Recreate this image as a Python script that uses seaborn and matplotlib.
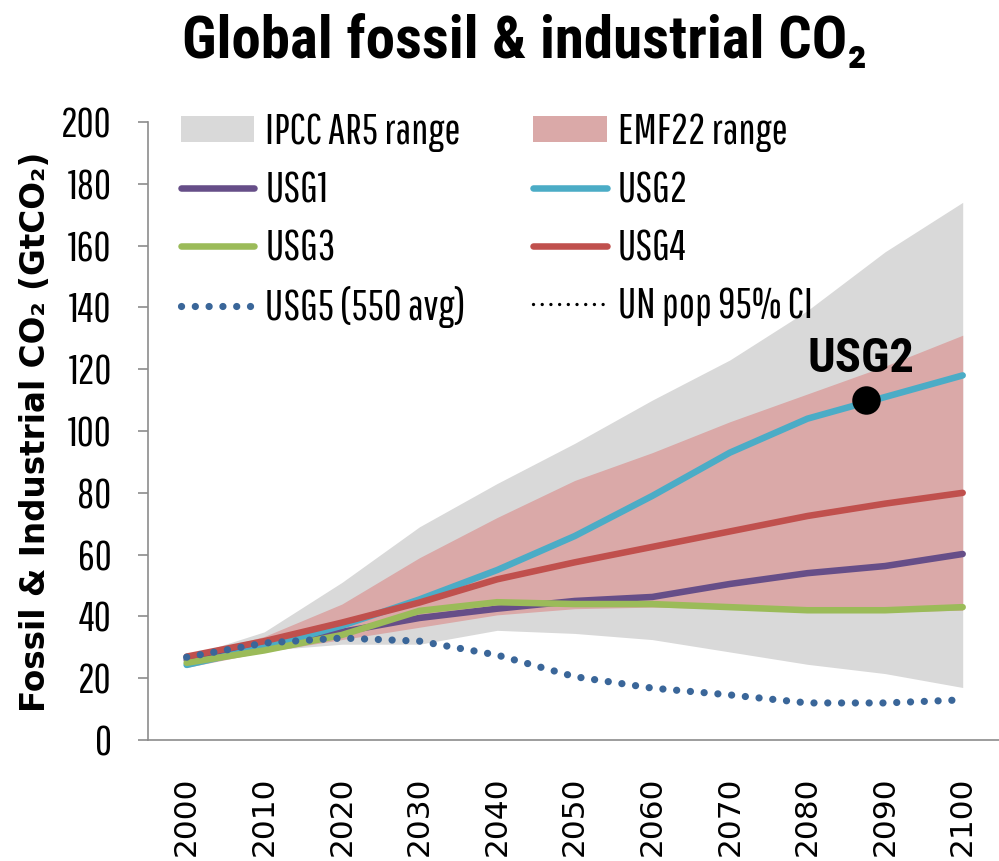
import numpy as np
import pandas as pd
import matplotlib
matplotlib.use("Agg")
import matplotlib.pyplot as plt
import seaborn as sns
from matplotlib.patches import Patch
from matplotlib.lines import Line2D

# values (GtCO2)
years = [2000, 2010, 2020, 2030, 2040, 2050, 2060, 2070, 2080, 2090, 2100]
ipcc_low = [24, 29, 31, 31, 35.5, 34.5, 32.5, 28.5, 24.5, 21.5, 17]
ipcc_high = [27, 35, 51, 69, 83, 96, 110, 123, 139, 158, 174]
emf_low = [23.5, 28.5, 32.5, 36.5, 40.5, 42.5, 43, 42.5, 41.5, 41.5, 42]
emf_high = [27, 33.5, 44, 59, 72, 84, 93, 103, 112, 121, 131]
usg1 = [26, 31, 35, 39.5, 42.5, 45, 46.3, 50.5, 54, 56.3, 60.2]
usg2 = [24.3, 30, 37, 45.5, 55, 66, 79, 93, 104, 111, 118]
usg3 = [25, 29, 34, 41.8, 44.6, 44, 44, 43, 42, 42, 43]
usg4 = [27, 32, 38, 44.5, 52, 57.5, 62.5, 67.5, 72.5, 76.5, 80]
usg5 = [26.8, 31.4, 33, 32, 27.5, 20.5, 16.8, 14.6, 12, 12, 13]
usg2_pt_year = [2087.5]
usg2_pt_value = [110]

C_GRAY = "#D9D9D9"
C_PINK = "#DAA9A8"
C_USG1 = "#664E88"
C_USG2 = "#4BACC6"
C_USG3 = "#9BBB59"
C_USG4 = "#C0504D"
C_USG5 = "#3A6699"
C_AXIS = "#8C8C8C"

NARROW = ["Pathway Gothic One", "Roboto Condensed", "DejaVu Sans"]
BOLD_NARROW = ["Roboto Condensed", "DejaVu Sans"]

sns.set_style("white")
plt.rcParams['font.family'] = NARROW
plt.rcParams['text.color'] = "black"
plt.rcParams['xtick.color'] = "black"
plt.rcParams['ytick.color'] = "black"

fig = plt.figure(figsize=(9.99, 8.61), dpi=100)
ax = fig.add_axes([0.148, 0.1405, 0.8545, 0.7178])

ax.fill_between(years, ipcc_low, ipcc_high, color=C_GRAY, linewidth=0)
ax.fill_between(years, emf_low, emf_high, color=C_PINK, linewidth=0)

lw = 4.7
sns.lineplot(x=years, y=usg1, ax=ax, color=C_USG1, linewidth=lw, solid_capstyle="round")
sns.lineplot(x=years, y=usg2, ax=ax, color=C_USG2, linewidth=lw, solid_capstyle="round")
sns.lineplot(x=years, y=usg3, ax=ax, color=C_USG3, linewidth=lw, solid_capstyle="round")
sns.lineplot(x=years, y=usg4, ax=ax, color=C_USG4, linewidth=lw, solid_capstyle="round")
sns.lineplot(x=years, y=usg5, ax=ax, color=C_USG5, linewidth=5.2,
             linestyle=(0, (0.01, 1.9)), dash_capstyle="round")

sns.scatterplot(x=usg2_pt_year, y=usg2_pt_value, ax=ax, color="black", s=360,
                edgecolor="black", zorder=5)
ax.text(usg2_pt_year[0] - 0.6, usg2_pt_value[0] + 5.8, "USG2", family=BOLD_NARROW,
        fontweight="bold", fontsize=35, ha="center", va="bottom")

ax.set_xlim(1995, 2105)
ax.set_ylim(0, 200)
ax.set_yticks(range(0, 201, 20))
ax.set_xticks(years)
ax.set_xticks(np.arange(1995, 2106, 10), minor=True)
ax.set_xticklabels([str(y) for y in years], rotation=90, family="DejaVu Sans", fontsize=22.5)
ax.tick_params(axis="x", which="major", length=0, pad=26)
ax.tick_params(axis="x", which="minor", length=15, width=1.2, color=C_AXIS)
ax.tick_params(axis="y", length=7, width=1.2, color=C_AXIS, pad=19, labelsize=30,
               left=True)
for lbl in ax.get_xticklabels():
    lbl.set_va("top")
sns.despine(ax=ax, top=True, right=True)
for side in ["left", "bottom"]:
    ax.spines[side].set_color(C_AXIS)
    ax.spines[side].set_linewidth(1.2)

handles = [
    Patch(facecolor=C_GRAY, edgecolor="none", label="IPCC AR5 range"),
    Line2D([], [], color=C_USG1, lw=lw, solid_capstyle="round", label="USG1"),
    Line2D([], [], color=C_USG3, lw=lw, solid_capstyle="round", label="USG3"),
    Line2D([], [], color=C_USG5, lw=5.2, linestyle=(0, (0.01, 1.9)),
           dash_capstyle="round", label="USG5 (550 avg)"),
    Patch(facecolor=C_PINK, edgecolor="none", label="EMF22 range"),
    Line2D([], [], color=C_USG2, lw=lw, solid_capstyle="round", label="USG2"),
    Line2D([], [], color=C_USG4, lw=lw, solid_capstyle="round", label="USG4"),
    Line2D([], [], color="black", lw=2.4, linestyle=(0, (0.01, 2.6)),
           dash_capstyle="round", label="UN pop 95% CI"),
]
fig.legend(handles=handles, ncol=2, loc="upper left", bbox_to_anchor=(181 / 999, 1 - 112 / 861),
           frameon=False, fontsize=31, handlelength=1.7, handleheight=0.55, handletextpad=0.26,
           columnspacing=1.56, labelspacing=0.42, borderpad=0, borderaxespad=0)

fig.text(525 / 999, 1 - 42 / 861, "Global fossil & industrial CO\u2082", family=BOLD_NARROW,
         fontsize=42.5, fontweight="bold", ha="center", va="center")
fig.text(36 / 999, 1 - 432 / 861, "Fossil & Industrial CO\u2082 (GtCO\u2082)", family="DejaVu Sans",
         fontsize=23.5, fontweight="bold", rotation=90, ha="center", va="center")

fig.savefig("out.png", dpi=100)
